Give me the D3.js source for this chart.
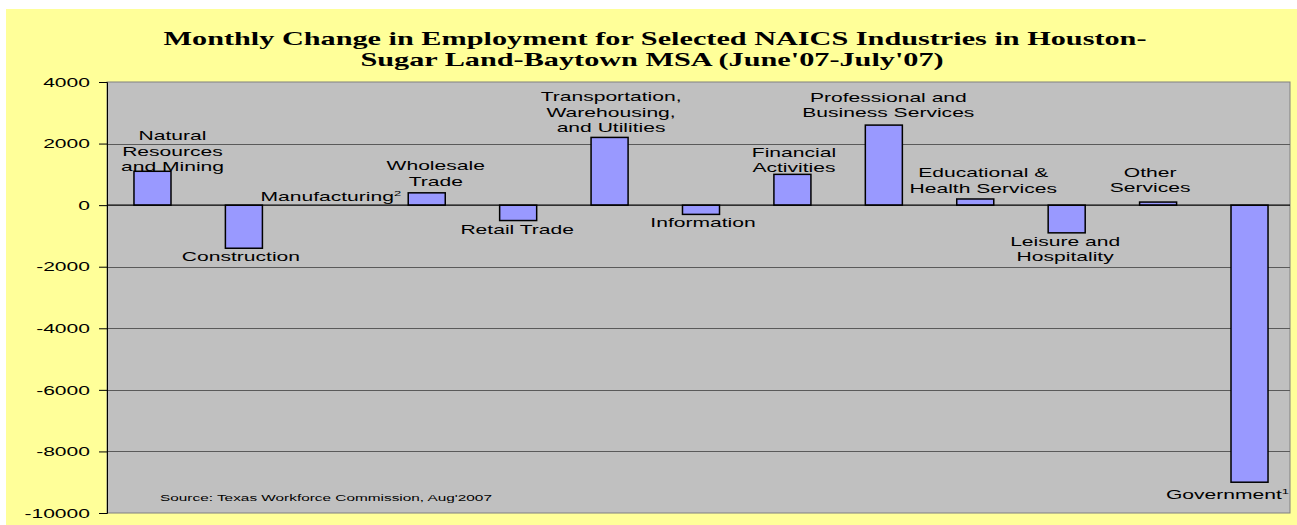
<!DOCTYPE html>
<html>
<head>
<meta charset="utf-8">
<script src="https://cdn.jsdelivr.net/npm/d3@7"></script>
<style>
  html, body { margin: 0; padding: 0; background: #ffffff; }
  svg { display: block; }
</style>
</head>
<body>
<svg id="chart" width="1297" height="525"></svg>
<script>
// ---------- data ----------
const categories = [
  "Natural Resources and Mining", "Construction", "Manufacturing", "Wholesale Trade",
  "Retail Trade", "Transportation, Warehousing, and Utilities", "Information",
  "Financial Activities", "Professional and Business Services",
  "Educational & Health Services", "Leisure and Hospitality", "Other Services", "Government"
];
const values = [1100, -1400, 0, 400, -500, 2200, -300, 1000, 2600, 200, -900, 100, -9000];
const labelLines = [
  ["Natural", "Resources", "and Mining"],
  ["Construction"],
  ["Manufacturing"],
  ["Wholesale", "Trade"],
  ["Retail Trade"],
  ["Transportation,", "Warehousing,", "and Utilities"],
  ["Information"],
  ["Financial", "Activities"],
  ["Professional and", "Business Services"],
  ["Educational &", "Health Services"],
  ["Leisure and", "Hospitality"],
  ["Other", "Services"],
  ["Government"]
];
const labelSup = ["", "", "2", "", "", "", "", "", "", "", "", "", "1"];
const yTicks = [4000, 2000, 0, -2000, -4000, -6000, -8000, -10000];
const titleLines = [
  "Monthly Change in Employment for Selected NAICS Industries in Houston-",
  "Sugar Land-Baytown MSA (June'07-July'07)"
];
const sourceText = "Source: Texas Workforce Commission, Aug'2007";

// ---------- layout (label nudges, px) ----------
const labelDx = [20, -3, -4.5, 9, -1, 1.5, 2, 1.5, 4.5, 8, -1.5, -8, -22];
const labelDy = [5, 0, 1, -2, 0, 0, 0, 3, -3, -1, 0, -5, 4];

const SX = 1.62;           // horizontal text stretch of the original picture
const FONT = "'Liberation Sans', Arial, sans-serif";
const plot = { left: 107, right: 1290, top: 82, bottom: 513 };

const svg = d3.select("#chart");

// background
svg.append("rect").attr("x", 6).attr("y", 9).attr("width", 1291).attr("height", 516)
  .attr("fill", "#FFFF99");

const x = d3.scaleBand().domain(categories).range([plot.left, plot.right + 5])
  .paddingInner(0.595).paddingOuter(0.295);
const y = d3.scaleLinear().domain([-10000, 4000]).range([plot.bottom, plot.top]);

// plot area
svg.append("rect").attr("x", plot.left).attr("y", plot.top)
  .attr("width", plot.right - plot.left).attr("height", plot.bottom - plot.top)
  .attr("fill", "#C0C0C0").attr("stroke", "#808080").attr("stroke-width", 1);

// gridlines
svg.append("g").selectAll("line").data(yTicks.filter(t => t !== 0 && t !== -10000 && t !== 4000))
  .join("line")
  .attr("x1", plot.left).attr("x2", plot.right)
  .attr("y1", d => Math.round(y(d)) + 0.5).attr("y2", d => Math.round(y(d)) + 0.5)
  .attr("stroke", "#5a5a5a").attr("stroke-width", 1);

// y axis
const yAxis = d3.axisLeft(y).tickValues(yTicks).tickSize(8).tickPadding(9).tickFormat(d => String(d));
const gy = svg.append("g").attr("transform", `translate(${plot.left},0)`).call(yAxis);
gy.select(".domain").attr("stroke", "#000");
gy.selectAll(".tick line").attr("stroke", "#000");
gy.selectAll(".tick text").each(function() {
  const t = d3.select(this);
  const xx = +t.attr("x") || -17;
  t.attr("x", null)
   .attr("transform", `translate(${xx},0) scale(${SX},1)`)
   .attr("font-family", FONT).attr("font-size", 13).attr("fill", "#000");
});

// bars
svg.append("g").selectAll("rect").data(values).join("rect")
  .attr("x", (d, i) => x(categories[i]))
  .attr("width", x.bandwidth())
  .attr("y", d => y(Math.max(0, d)))
  .attr("height", d => Math.abs(y(d) - y(0)))
  .attr("fill", "#9999FF").attr("stroke", "#000").attr("stroke-width", 1.5);

// zero line
svg.append("line").attr("x1", plot.left).attr("x2", plot.right)
  .attr("y1", y(0)).attr("y2", y(0)).attr("stroke", "#000").attr("stroke-width", 1.2);

// category labels
const LH = 15.5;
values.forEach((v, i) => {
  const lines = labelLines[i];
  const cx = x(categories[i]) + x.bandwidth() / 2 + labelDx[i];
  let firstBase;
  if (v >= 0) {
    firstBase = y(v) - 5 - (lines.length - 1) * LH;
  } else {
    firstBase = y(v) + 13;
  }
  firstBase += labelDy[i];
  const t = svg.append("text")
    .attr("transform", `translate(${cx},${firstBase}) scale(${SX},1)`)
    .attr("text-anchor", "middle")
    .attr("font-family", FONT).attr("font-size", 13).attr("fill", "#000");
  lines.forEach((ln, k) => {
    t.append("tspan").attr("x", 0).attr("dy", k === 0 ? 0 : LH).text(ln);
  });
  if (labelSup[i]) {
    t.append("tspan").attr("dy", -5).attr("font-size", 8).text(labelSup[i]);
  }
});

// title
const title = svg.append("g");
const titleCx = 655;
const tBase = [45, 66];
const t0 = title.append("text").text(titleLines[0])
  .attr("font-family", "'Liberation Serif', 'Times New Roman', serif")
  .attr("font-weight", "bold").attr("font-size", 18).attr("text-anchor", "middle");
const natural = t0.node().getComputedTextLength();
const TSX = 984 / natural;
t0.attr("transform", `translate(${titleCx},${tBase[0]}) scale(${TSX},1)`);
title.append("text").text(titleLines[1])
  .attr("font-family", "'Liberation Serif', 'Times New Roman', serif")
  .attr("font-weight", "bold").attr("font-size", 18).attr("text-anchor", "middle")
  .attr("transform", `translate(652,${tBase[1]}) scale(${TSX},1)`);

// source
svg.append("text").text(sourceText)
  .attr("transform", `translate(160,501) scale(${SX},1)`)
  .attr("font-family", FONT).attr("font-size", 9.5).attr("fill", "#000");
</script>
</body>
</html>
